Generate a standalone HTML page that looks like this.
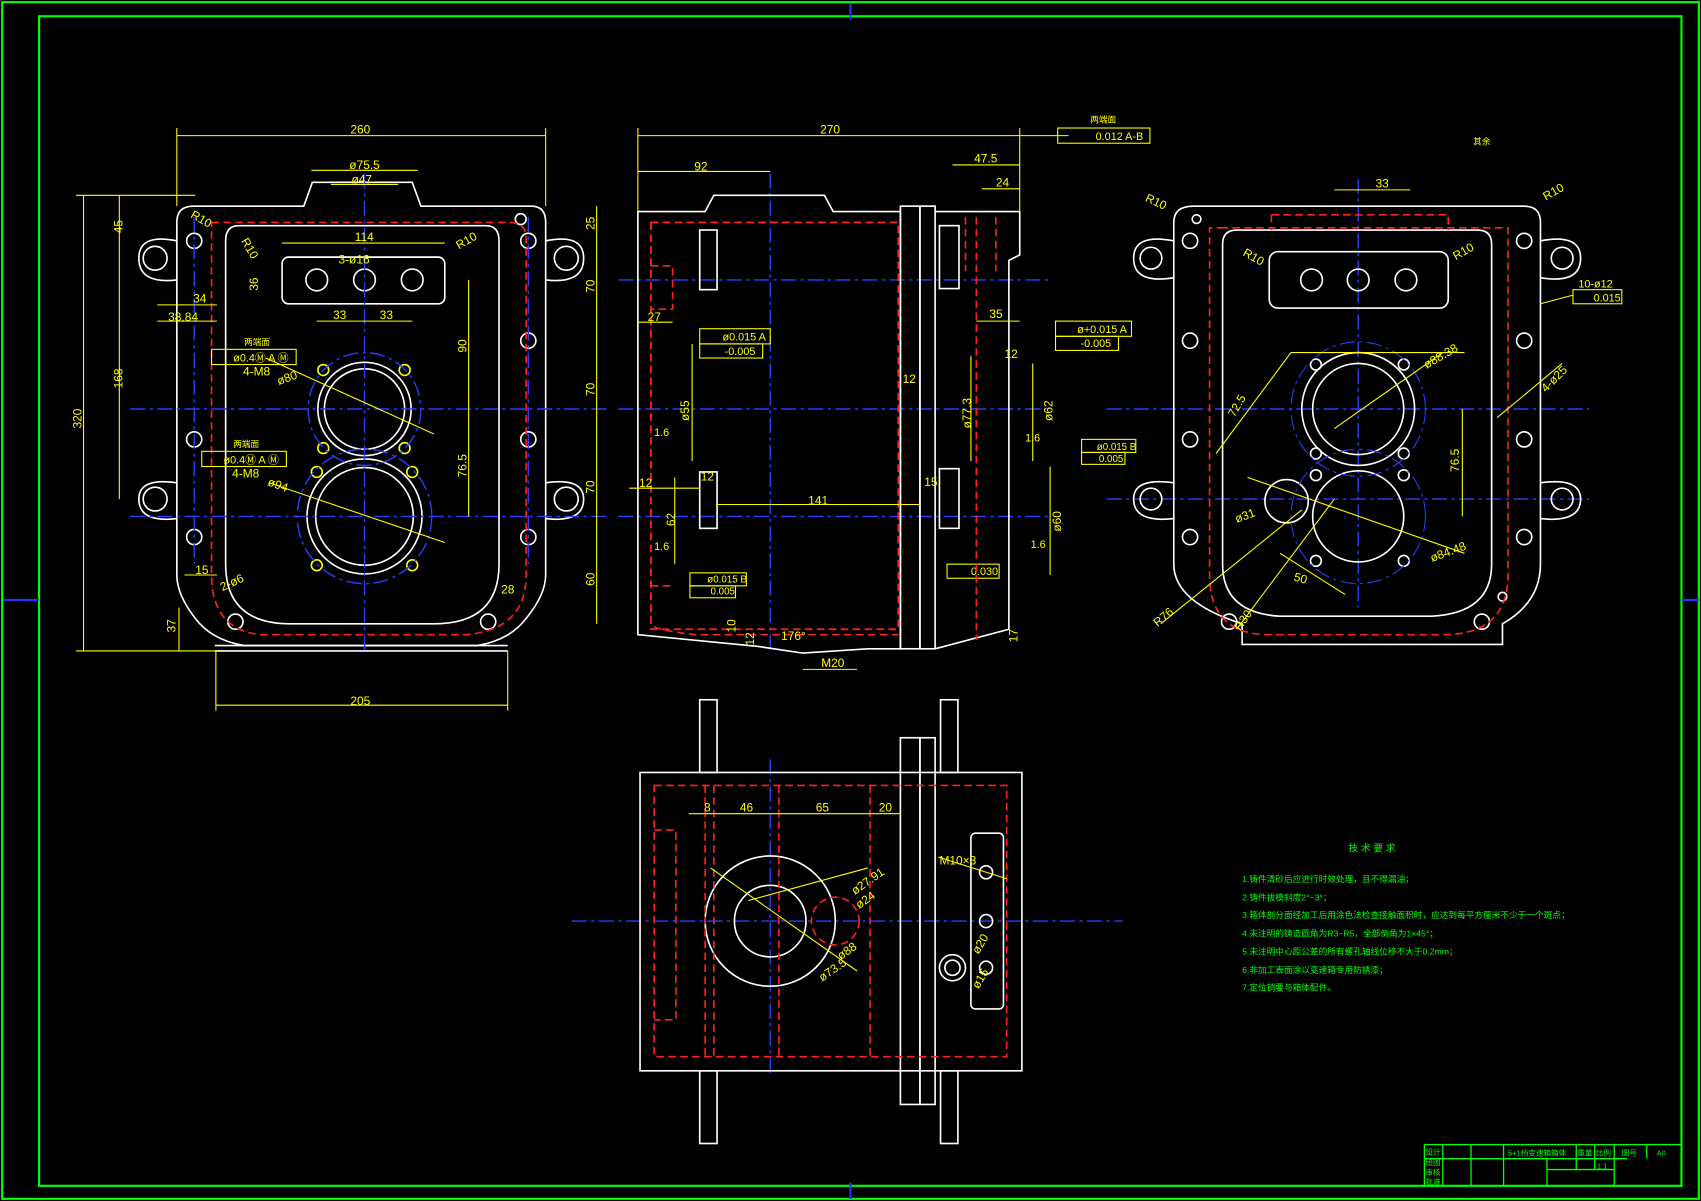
<!DOCTYPE html>
<html><head><meta charset="utf-8"><style>
html,body{margin:0;padding:0;background:#000;}
svg{display:block}
text{font-family:"Liberation Sans","Noto Sans CJK SC",sans-serif;}
</style></head><body>
<svg width="1701" height="1201" viewBox="0 0 1568 1107" preserveAspectRatio="none" xmlns="http://www.w3.org/2000/svg">
<rect width="1568" height="1107" fill="#000"/>
<g fill="none" stroke="#00ff00" stroke-width="2">
<rect x="2" y="2" width="1564" height="1103"/>
<rect x="36" y="15" width="1514" height="1078"/>
</g>
<g stroke="#2233ff" stroke-width="2"><line x1="784" y1="3" x2="784" y2="18"/><line x1="784" y1="1090" x2="784" y2="1105"/><line x1="3" y1="553" x2="36" y2="553"/><line x1="1550" y1="553" x2="1566" y2="553"/></g>

<!-- FRONT VIEW -->
<g fill="none" stroke="#ffffff" stroke-width="1.5">
<path d="M178,190 H280 L288,168 H380 L388,190 H490 Q503,190 503,205 V530 Q503,548 485,570 Q470,590 440,595 H225 Q195,590 180,570 Q163,548 163,530 V205 Q163,190 178,190 Z"/>
<path d="M220,208 H448 Q460,208 460,222 V520 Q460,575 400,575 H268 Q208,575 208,520 V222 Q208,208 220,208 Z"/>
<rect x="260" y="237" width="150" height="43" rx="6"/>
<circle cx="292" cy="258" r="10"/><circle cx="336" cy="258" r="10"/><circle cx="380" cy="258" r="10"/>
<circle cx="336" cy="377" r="37"/><circle cx="336" cy="377" r="43"/>
<circle cx="336" cy="476" r="45"/><circle cx="336" cy="476" r="53"/>
<circle cx="143" cy="238" r="11"/><circle cx="143" cy="460" r="11"/><circle cx="522" cy="238" r="11"/><circle cx="522" cy="460" r="11"/>
<path d="M163,222 Q128,215 128,238 Q128,262 163,258"/><path d="M163,445 Q128,440 128,460 Q128,482 163,478"/>
<path d="M503,222 Q538,215 538,238 Q538,262 503,258"/><path d="M503,445 Q538,440 538,460 Q538,482 503,478"/>
<circle cx="179" cy="222" r="7"/><circle cx="179" cy="405" r="7"/><circle cx="179" cy="495" r="7"/>
<circle cx="487" cy="222" r="7"/><circle cx="487" cy="314" r="7"/><circle cx="487" cy="405" r="7"/><circle cx="487" cy="495" r="7"/>
<circle cx="217" cy="573" r="7"/><circle cx="450" cy="573" r="7"/><circle cx="480" cy="202" r="5"/>
<line x1="198" y1="595" x2="468" y2="595"/><line x1="198" y1="600" x2="468" y2="600"/>
</g>
<g fill="none" stroke="#ffff00" stroke-width="1.5"><circle cx="298" cy="341" r="5"/><circle cx="373" cy="341" r="5"/><circle cx="298" cy="413" r="5"/><circle cx="373" cy="413" r="5"/><circle cx="292" cy="435" r="5"/><circle cx="380" cy="435" r="5"/><circle cx="292" cy="521" r="5"/><circle cx="380" cy="521" r="5"/></g>
<g fill="none" stroke="#ff2020" stroke-width="1.5" stroke-dasharray="7,4">
<path d="M195,205 H470 Q485,205 485,220 V530 Q485,580 430,585 H240 Q195,580 195,530 V220 Q195,205 195,205"/>
</g>
<g fill="none" stroke="#2a3cff" stroke-width="1.3" stroke-dasharray="14,4,3,4">
<circle cx="336" cy="377" r="52"/><circle cx="336" cy="476" r="62"/>
<line x1="336" y1="160" x2="336" y2="600"/><line x1="120" y1="377" x2="560" y2="377"/><line x1="120" y1="476" x2="560" y2="476"/>
<line x1="179" y1="200" x2="179" y2="520"/><line x1="487" y1="200" x2="487" y2="520"/>
<line x1="570" y1="258" x2="970" y2="258"/><line x1="570" y1="377" x2="970" y2="377"/><line x1="570" y1="476" x2="970" y2="476"/>
<line x1="1020" y1="377" x2="1465" y2="377"/><line x1="1020" y1="460" x2="1465" y2="460"/>
<line x1="1252" y1="165" x2="1252" y2="560"/><line x1="710" y1="160" x2="710" y2="600"/>
<line x1="527" y1="849" x2="1035" y2="849"/><line x1="710" y1="700" x2="710" y2="990"/>
</g>
<!-- front dimensions -->
<g stroke="#ffff00" stroke-width="1" fill="none">
<line x1="163" y1="125" x2="503" y2="125"/><line x1="163" y1="118" x2="163" y2="190"/><line x1="503" y1="118" x2="503" y2="190"/>
<line x1="287" y1="157" x2="385" y2="157"/><line x1="305" y1="170" x2="367" y2="170"/>
<line x1="260" y1="224" x2="410" y2="224"/>
<line x1="77" y1="180" x2="77" y2="600"/><line x1="70" y1="180" x2="180" y2="180"/><line x1="70" y1="600" x2="200" y2="600"/>
<line x1="110" y1="180" x2="110" y2="460"/><line x1="550" y1="190" x2="550" y2="575"/>
<line x1="199" y1="650" x2="468" y2="650"/><line x1="199" y1="600" x2="199" y2="655"/><line x1="468" y1="600" x2="468" y2="655"/>
<line x1="292" y1="296" x2="380" y2="296"/><line x1="145" y1="296" x2="200" y2="296"/><line x1="145" y1="281" x2="200" y2="281"/>
<line x1="432" y1="258" x2="432" y2="476"/>
<line x1="245" y1="330" x2="400" y2="400"/><line x1="248" y1="445" x2="410" y2="500"/>
<line x1="165" y1="600" x2="165" y2="560"/><line x1="170" y1="530" x2="200" y2="530"/>
</g>
<g fill="#ffff00" font-size="11">
<text x="323" y="123">260</text><text x="322" y="156">ø75.5</text><text x="324" y="169">ø47</text><text x="327" y="222">114</text><text x="312" y="243">3-ø16</text>
<text x="307" y="294">33</text><text x="350" y="294">33</text><text x="155" y="296">38.84</text><text x="178" y="279">34</text>
<text x="323" y="650">205</text><text x="180" y="529">15</text><text x="462" y="547">28</text>
<text transform="translate(75,395) rotate(-90)">320</text><text transform="translate(113,358) rotate(-90)">168</text><text transform="translate(113,215) rotate(-90)">45</text>
<text transform="translate(548,270) rotate(-90)">70</text><text transform="translate(548,365) rotate(-90)">70</text><text transform="translate(548,455) rotate(-90)">70</text><text transform="translate(548,540) rotate(-90)">60</text><text transform="translate(548,212) rotate(-90)">25</text>
<text transform="translate(430,325) rotate(-90)">90</text><text transform="translate(430,440) rotate(-90)">76.5</text><text transform="translate(238,268) rotate(-90)">36</text><text transform="translate(162,583) rotate(-90)">37</text>
<text transform="translate(175,200) rotate(30)">R10</text><text transform="translate(423,230) rotate(-30)">R10</text><text transform="translate(222,222) rotate(60)">R10</text>
<text transform="translate(257,355) rotate(-20)">ø80</text><text transform="translate(246,447) rotate(20)">ø94</text><text transform="translate(205,545) rotate(-25)">2-ø6</text>
<text x="224" y="346">4-M8</text><text x="214" y="440">4-M8</text><text x="225" y="318" font-size="8">两端面</text><text x="215" y="412" font-size="8">两端面</text>
</g>
<g stroke="#ffff00" fill="none"><rect x="195" y="322" width="78" height="14"/><rect x="186" y="416" width="78" height="14"/>
<rect x="975" y="118" width="85" height="14"/><rect x="645" y="303" width="65" height="14"/><rect x="645" y="317" width="58" height="13"/>
<rect x="973" y="296" width="70" height="14"/><rect x="973" y="310" width="58" height="13"/><rect x="997" y="405" width="50" height="12"/><rect x="997" y="417" width="40" height="11"/>
<rect x="636" y="528" width="52" height="12"/><rect x="636" y="540" width="42" height="11"/><rect x="873" y="520" width="48" height="13"/><rect x="1450" y="267" width="45" height="13"/></g>
<g fill="#ffff00" font-size="10"><text x="215" y="333">ø0.4Ⓜ A Ⓜ</text><text x="206" y="427">ø0.4Ⓜ A Ⓜ</text>
<text x="1010" y="129">0.012 A-B</text><text x="1005" y="113" font-size="8">两端面</text><text x="666" y="314">ø0.015 A</text><text x="668" y="327">-0.005</text>
<text x="993" y="307">ø+0.015 A</text><text x="996" y="320">-0.005</text><text x="1011" y="415" font-size="9">ø0.015 B</text><text x="1013" y="426" font-size="9">0.005</text>
<text x="652" y="537" font-size="9">ø0.015 B</text><text x="655" y="548" font-size="9">0.005</text><text x="895" y="530">0.030</text><text x="1469" y="278">0.015</text><text x="1455" y="265">10-ø12</text></g>

<!-- SIDE VIEW -->
<g fill="none" stroke="#ffffff" stroke-width="1.5">
<path d="M588,195 H650 L658,180 H760 L768,195 H830 V598 H800 L740,602 L700,596 L588,585 Z"/>
<rect x="830" y="190" width="18" height="408"/><rect x="848" y="190" width="14" height="408"/>
<path d="M862,195 H940 V235 L930,240 V580 L862,598"/>
<rect x="645" y="212" width="16" height="55"/><rect x="645" y="435" width="16" height="52"/>
<rect x="866" y="208" width="18" height="58"/><rect x="866" y="432" width="18" height="55"/>
</g>
<g fill="none" stroke="#ff2020" stroke-width="1.5" stroke-dasharray="7,4">
<path d="M600,205 H828 M600,205 V575 Q600,580 640,585 H828 M900,200 V590 M918,200 V250 M890,200 V250 M600,245 H620 V285 H600 M600,540 H620"/>
<rect x="600" y="205" width="228" height="375"/>
</g>
<g stroke="#ffff00" stroke-width="1" fill="none">
<line x1="588" y1="125" x2="940" y2="125"/><line x1="588" y1="118" x2="588" y2="195"/><line x1="940" y1="118" x2="940" y2="195"/>
<line x1="588" y1="158" x2="710" y2="158"/><line x1="878" y1="152" x2="940" y2="152"/><line x1="905" y1="174" x2="940" y2="174"/>
<line x1="940" y1="125" x2="985" y2="125"/><line x1="660" y1="465" x2="848" y2="465"/><line x1="588" y1="297" x2="620" y2="297"/>
<line x1="895" y1="328" x2="895" y2="425"/><line x1="952" y1="335" x2="952" y2="425"/><line x1="968" y1="430" x2="968" y2="530"/>
<line x1="638" y1="317" x2="638" y2="425"/><line x1="622" y1="440" x2="622" y2="520"/><line x1="740" y1="617" x2="790" y2="617"/>
<line x1="900" y1="296" x2="940" y2="296"/><line x1="580" y1="450" x2="645" y2="450"/>
</g>
<g fill="#ffff00" font-size="11">
<text x="756" y="123">270</text><text x="640" y="157">92</text><text x="898" y="150">47.5</text><text x="918" y="172">24</text><text x="597" y="296">27</text><text x="912" y="293">35</text>
<text x="745" y="465">141</text><text x="646" y="443">12</text><text x="589" y="449">12</text><text x="926" y="330">12</text><text x="832" y="353">12</text><text x="852" y="448">15</text>
<text x="757" y="615">M20</text><text x="720" y="590">176°</text><text x="603" y="402" font-size="10">1.6</text><text x="603" y="507" font-size="10">1.6</text><text x="945" y="407" font-size="10">1.6</text><text x="950" y="505" font-size="10">1.6</text>
<text transform="translate(635,388) rotate(-90)">ø55</text><text transform="translate(895,395) rotate(-90)">ø77.3</text><text transform="translate(970,388) rotate(-90)">ø62</text><text transform="translate(978,490) rotate(-90)">ø60</text><text transform="translate(622,485) rotate(-90)">62</text>
<text transform="translate(678,583) rotate(-90)">10</text><text transform="translate(695,595) rotate(-90)">12</text><text transform="translate(938,592) rotate(-90)">17</text>
</g>

<!-- RIGHT VIEW -->
<g fill="none" stroke="#ffffff" stroke-width="1.5">
<path d="M1100,190 H1405 Q1420,190 1420,205 V520 Q1420,555 1385,575 L1385,594 H1145 V575 Q1082,555 1082,520 V205 Q1082,190 1100,190 Z"/>
<path d="M1140,212 H1362 Q1375,212 1375,225 V520 Q1375,565 1320,568 H1180 Q1127,565 1127,520 V225 Q1127,212 1140,212 Z"/>
<rect x="1170" y="232" width="165" height="52" rx="8"/>
<circle cx="1209" cy="258" r="10"/><circle cx="1252" cy="258" r="10"/><circle cx="1296" cy="258" r="10"/>
<circle cx="1252" cy="377" r="42"/><circle cx="1252" cy="377" r="52"/><circle cx="1252" cy="476" r="42"/><circle cx="1186" cy="462" r="20"/>
<circle cx="1061" cy="238" r="10"/><circle cx="1061" cy="460" r="10"/><circle cx="1440" cy="238" r="10"/><circle cx="1440" cy="460" r="10"/>
<path d="M1082,222 Q1045,215 1045,238 Q1045,262 1082,256 M1082,445 Q1045,440 1045,460 Q1045,482 1082,478 M1420,222 Q1457,215 1457,238 Q1457,262 1420,256 M1420,445 Q1457,440 1457,460 Q1457,482 1420,478"/>
<circle cx="1097" cy="222" r="7"/><circle cx="1097" cy="314" r="7"/><circle cx="1097" cy="405" r="7"/><circle cx="1097" cy="495" r="7"/>
<circle cx="1405" cy="222" r="7"/><circle cx="1405" cy="314" r="7"/><circle cx="1405" cy="405" r="7"/><circle cx="1405" cy="495" r="7"/>
<circle cx="1133" cy="573" r="7"/><circle cx="1366" cy="573" r="7"/><circle cx="1385" cy="550" r="4"/><circle cx="1103" cy="202" r="4"/>
<circle cx="1213" cy="336" r="5"/><circle cx="1294" cy="336" r="5"/><circle cx="1213" cy="418" r="5"/><circle cx="1294" cy="418" r="5"/>
<circle cx="1213" cy="438" r="5"/><circle cx="1294" cy="438" r="5"/><circle cx="1213" cy="517" r="5"/><circle cx="1294" cy="517" r="5"/>
</g>
<g fill="none" stroke="#ff2020" stroke-width="1.5" stroke-dasharray="7,4"><path d="M1125,210 H1390 V530 Q1390,585 1330,585 H1170 Q1115,585 1115,530 V210 Z M1172,198 H1335 V212 M1172,198 V212"/></g>
<g fill="none" stroke="#2a3cff" stroke-dasharray="14,4,3,4"><circle cx="1252" cy="377" r="62"/><circle cx="1252" cy="476" r="62"/></g>
<g stroke="#ffff00" stroke-width="1" fill="none">
<line x1="1121" y1="418" x2="1190" y2="325"/><line x1="1190" y1="325" x2="1350" y2="325"/><line x1="1230" y1="395" x2="1330" y2="325"/>
<line x1="1150" y1="440" x2="1350" y2="510"/><line x1="1070" y1="575" x2="1200" y2="470"/><line x1="1140" y1="580" x2="1230" y2="460"/>
<line x1="1348" y1="377" x2="1348" y2="476"/><line x1="1180" y1="510" x2="1240" y2="548"/><line x1="1380" y1="385" x2="1440" y2="335"/>
<line x1="1230" y1="175" x2="1300" y2="175"/><line x1="1420" y1="280" x2="1450" y2="272"/>
</g>
<g fill="#ffff00" font-size="11">
<text x="1268" y="173">33</text><text transform="translate(1055,185) rotate(25)">R10</text><text transform="translate(1425,185) rotate(-30)">R10</text>
<text transform="translate(1145,235) rotate(30)">R10</text><text transform="translate(1342,240) rotate(-30)">R10</text>
<text transform="translate(1315,340) rotate(-30)">ø88.38</text><text transform="translate(1138,385) rotate(-60)">72.5</text><text transform="translate(1345,435) rotate(-90)">76.5</text>
<text transform="translate(1320,518) rotate(-20)">ø84.48</text><text transform="translate(1140,482) rotate(-20)">ø31</text><text transform="translate(1192,535) rotate(15)">50</text>
<text transform="translate(1067,578) rotate(-40)">R76</text><text transform="translate(1143,582) rotate(-55)">R30</text><text transform="translate(1425,362) rotate(-45)">4-ø25</text>
<text x="1358" y="133" font-size="8">其余</text>
</g>

<!-- BOTTOM VIEW -->
<g fill="none" stroke="#ffffff" stroke-width="1.5">
<rect x="590" y="712" width="352" height="275"/><rect x="645" y="645" width="16" height="67"/><rect x="645" y="987" width="16" height="67"/>
<rect x="867" y="645" width="16" height="67"/><rect x="867" y="987" width="16" height="67"/>
<rect x="830" y="680" width="18" height="338"/><rect x="848" y="680" width="14" height="338"/>
<circle cx="710" cy="849" r="60"/><circle cx="710" cy="849" r="33"/>
<rect x="895" y="768" width="30" height="162" rx="4"/><circle cx="909" cy="804" r="6"/><circle cx="909" cy="849" r="6"/><circle cx="909" cy="892" r="6"/><circle cx="878" cy="892" r="12"/><circle cx="878" cy="892" r="7"/>
</g>
<g fill="none" stroke="#ff2020" stroke-width="1.5" stroke-dasharray="7,4">
<rect x="603" y="724" width="325" height="250"/><line x1="650" y1="724" x2="650" y2="974"/><line x1="658" y1="724" x2="658" y2="974"/><line x1="718" y1="724" x2="718" y2="974"/><line x1="802" y1="724" x2="802" y2="974"/>
<path d="M603,765 H623 V940 H603"/><circle cx="770" cy="849" r="22"/>
</g>
<g stroke="#ffff00" stroke-width="1" fill="none"><line x1="635" y1="750" x2="830" y2="750"/><line x1="655" y1="800" x2="790" y2="895"/><line x1="690" y1="830" x2="800" y2="800"/><line x1="865" y1="790" x2="928" y2="810"/></g>
<g fill="#ffff00" font-size="11"><text x="649" y="748">8</text><text x="682" y="748">46</text><text x="752" y="748">65</text><text x="810" y="748">20</text>
<text x="866" y="797">M10×3</text><text transform="translate(788,825) rotate(-35)">ø27.91</text><text transform="translate(792,838) rotate(-35)">ø24</text>
<text transform="translate(775,885) rotate(-35)">ø88</text><text transform="translate(758,905) rotate(-35)">ø73.5</text><text transform="translate(902,880) rotate(-60)">ø20</text><text transform="translate(902,912) rotate(-60)">ø15</text></g>

<!-- tech requirements -->
<g fill="#00ff00" font-size="8">
<text x="1243" y="785" font-size="9">技 术 要 求</text>
<text x="1145" y="813">1.铸件清砂后应进行时效处理，且不得漏油；</text>
<text x="1145" y="830">2.铸件拔模斜度2°~3°；</text>
<text x="1145" y="846">3.箱体剖分面经加工后用涂色法检查接触面积时，应达到每平方厘米不少于一个斑点；</text>
<text x="1145" y="863">4.未注明的铸造圆角为R3~R5，全部倒角为1×45°；</text>
<text x="1145" y="880">5.未注明中心距公差的所有螺孔轴线位移不大于0.2mm；</text>
<text x="1145" y="897">6.非加工表面涂以变速箱专用防锈漆；</text>
<text x="1145" y="913">7.定位销要与箱体配件。</text>
</g>
<g fill="none" stroke="#00ff00" stroke-width="1.2">
<rect x="1313" y="1055" width="237" height="38"/>
<line x1="1313" y1="1068" x2="1500" y2="1068"/><line x1="1330" y1="1055" x2="1330" y2="1093"/><line x1="1356" y1="1055" x2="1356" y2="1093"/><line x1="1386" y1="1055" x2="1386" y2="1093"/>
<line x1="1453" y1="1055" x2="1453" y2="1078"/><line x1="1470" y1="1055" x2="1470" y2="1078"/><line x1="1488" y1="1055" x2="1488" y2="1093"/><line x1="1518" y1="1055" x2="1518" y2="1068"/>
<line x1="1426" y1="1068" x2="1426" y2="1093"/><line x1="1426" y1="1078" x2="1488" y2="1078"/>
</g>
<g fill="#00ff00" font-size="7"><text x="1314" y="1064">设计</text><text x="1314" y="1074">绘图</text><text x="1314" y="1083">审核</text><text x="1314" y="1092">批准</text>
<text x="1390" y="1065">5+1档变速箱箱体</text><text x="1454" y="1065">重量</text><text x="1471" y="1065">比例</text><text x="1472" y="1077">1:1</text><text x="1495" y="1065">图号</text><text x="1527" y="1065">A0</text></g>
</svg>
</body></html>
